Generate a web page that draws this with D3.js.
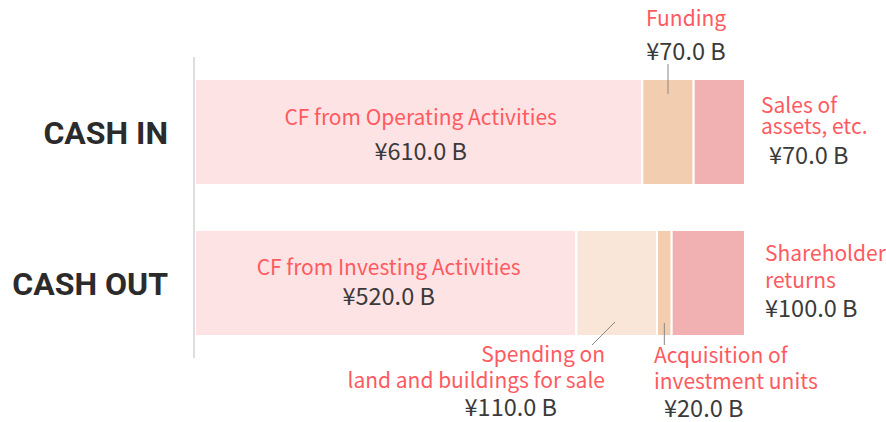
<!DOCTYPE html>
<html>
<head>
<meta charset="utf-8">
<script src="https://cdn.jsdelivr.net/npm/d3@7"></script>
<style>
  body { margin: 0; background: #fff; }
  svg text { font-family: "Noto Sans CJK JP", "Noto Sans", sans-serif; }
  .row-label { font-family: Roboto, "Noto Sans", sans-serif !important; font-weight: 700; fill: #2b2b2b; }
  .name { fill: #ff5a5f; }
  .value { fill: #3a3a3a; }
</style>
</head>
<body>
<svg id="chart"></svg>
<script>
// Data
const rows = ["CASH IN", "CASH OUT"];
const cashIn = [
  { key: "CF from Operating Activities", value: 610, color: "#fee3e5" },
  { key: "Funding", value: 70, color: "#f2cdb0" },
  { key: "Sales of assets, etc.", value: 70, color: "#f1b1b2" }
];
const cashOut = [
  { key: "CF from Investing Activities", value: 520, color: "#fee3e5" },
  { key: "Spending on land and buildings for sale", value: 110, color: "#fae5d9" },
  { key: "Acquisition of investment units", value: 20, color: "#f2cdb0" },
  { key: "Shareholder returns", value: 100, color: "#f1b1b2" }
];

const width = 886;
const height = 422;

const svg = d3.select("#chart")
  .attr("width", width)
  .attr("height", height);

// Scales
const total = d3.max([d3.sum(cashIn, d => d.value), d3.sum(cashOut, d => d.value)]);
const x = d3.scaleLinear().domain([0, total]).range([195, 745]);
const y = d3.scaleBand().domain(rows).range([79, 336]).paddingInner(0.298);

const fmt = v => "¥" + v.toFixed(1) + " B";

// stack segments
function stack(list) {
  let acc = 0;
  return list.map(d => {
    const s = { ...d, x0: acc, x1: acc + d.value };
    acc += d.value;
    return s;
  });
}
const segIn = stack(cashIn);
const segOut = stack(cashOut);

// Bars
[[rows[0], segIn], [rows[1], segOut]].forEach(([row, segs]) => {
  svg.append("g").selectAll("rect")
    .data(segs)
    .enter()
    .append("rect")
    .attr("x", d => x(d.x0))
    .attr("y", y(row))
    .attr("width", d => x(d.x1) - x(d.x0))
    .attr("height", y.bandwidth())
    .attr("fill", d => d.color)
    .attr("stroke", "#fff")
    .attr("stroke-width", 2);
});

// Axis line
svg.append("line")
  .attr("x1", 194).attr("x2", 194)
  .attr("y1", 57).attr("y2", 358)
  .attr("stroke", "#dedede")
  .attr("stroke-width", 2);

// Row labels
svg.selectAll(".row-label")
  .data(rows)
  .enter()
  .append("text")
  .attr("class", "row-label")
  .attr("x", 168)
  .attr("y", d => y(d) + y.bandwidth() / 2 + 12)
  .attr("text-anchor", "end")
  .attr("font-size", 32)
  .text(d => d);

// name lines in red, value in dark grey
function label(lines, val, px, py, anchor, lineGap, gap, valDx) {
  const g = svg.append("g");
  lines.forEach((t, i) => {
    g.append("text").attr("class", "name")
      .attr("x", px).attr("y", py + i * lineGap)
      .attr("text-anchor", anchor)
      .attr("font-size", 21)
      .text(t);
  });
  g.append("text").attr("class", "value")
    .attr("x", px + (valDx || 0)).attr("y", py + (lines.length - 1) * lineGap + gap)
    .attr("text-anchor", anchor)
    .attr("font-size", 23.5)
    .text(fmt(val));
}

function leader(x1, y1, x2, y2) {
  svg.append("line")
    .attr("x1", x1).attr("y1", y1).attr("x2", x2).attr("y2", y2)
    .attr("stroke", "#888").attr("stroke-width", 1);
}

const topIn = y(rows[0]);
const topOut = y(rows[1]);

// CASH IN labels
const op = segIn[0];
label(["CF from Operating Activities"], op.value, (x(op.x0) + x(op.x1)) / 2 + 2, topIn + 46, "middle", 25, 35);
const fu = segIn[1];
const fuMid = (x(fu.x0) + x(fu.x1)) / 2;
label(["Funding"], fu.value, fuMid + 18, 26, "middle", 25, 34);
leader(fuMid, 64, fuMid, 94);
const sa = segIn[2];
label(["Sales of", "assets, etc."], sa.value, x(sa.x1) + 16, 113, "start", 21, 30, 8);

// CASH OUT labels
const inv = segOut[0];
label(["CF from Investing Activities"], inv.value, (x(inv.x0) + x(inv.x1)) / 2 + 3, topOut + 45, "middle", 25, 30);
const sp = segOut[1];
label(["Spending on", "land and buildings for sale"], sp.value, 605, 362, "end", 26, 28, -48);
leader(615, 322, 592, 345);
const aq = segOut[2];
const aqMid = (x(aq.x0) + x(aq.x1)) / 2;
label(["Acquisition of", "investment units"], aq.value, 654, 363, "start", 26, 28, 10);
leader(aqMid, 323, aqMid, 345);
const sh = segOut[3];
label(["Shareholder", "returns"], sh.value, x(sh.x1) + 20, 261, "start", 27, 29);
</script>
</body>
</html>
